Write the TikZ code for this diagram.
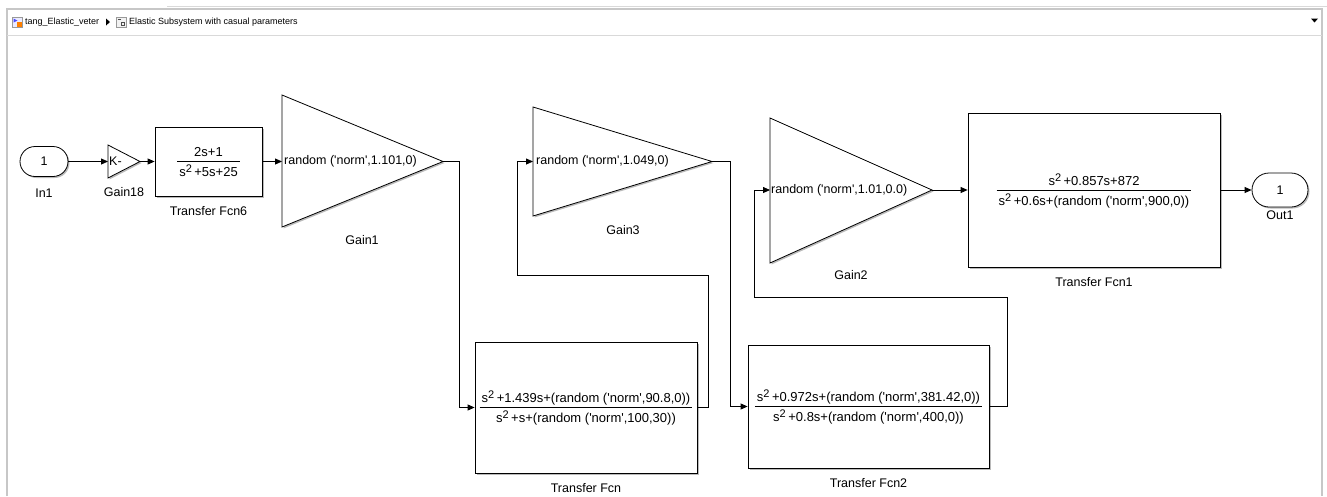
\documentclass[tikz,border=0pt]{standalone}
\usepackage{fontspec}
\setmainfont{Liberation Sans}
\usetikzlibrary{arrows.meta,positioning,shapes.misc,shadows}
\newcommand{\q}{\textquotesingle}
\newcommand{\sq}{s\raisebox{0.55ex}{\fontsize{11}{11}\selectfont 2}\hspace{2.5pt}}
\newcommand{\tfcn}[2]{\begin{tabular}{@{\hspace{2pt}}c@{\hspace{2pt}}}\rule{0pt}{15pt}#1\\ \hline\rule{0pt}{15pt}#2\end{tabular}}

\begin{document}
\begin{tikzpicture}[x=1pt,y=-1pt,>={Triangle[length=7pt,width=6pt]},
  every node/.style={font=\fontsize{12.5}{15}\selectfont},
  blk/.style={draw,line width=0.8pt,fill=white,inner sep=0pt,
    drop shadow={shadow xshift=1.5pt,shadow yshift=-1.5pt,fill=black!45,opacity=0.6}},
  tf/.style={blk,font=\fontsize{13}{15.6}\selectfont},
  port/.style={blk,rounded rectangle},
  sig/.style={->,line width=0.8pt},
  lbl/.style={inner sep=1pt},
  gaintxt/.style={anchor=west,inner sep=1pt},
  crumb/.style={anchor=west,inner sep=0pt,font=\fontsize{9}{11}\selectfont},
  frm/.style={draw=black!22,line width=1.5pt}]
\useasboundingbox (0,0) rectangle (1327,496);

% window and breadcrumb bar
\draw[frm] (7,496) -- (7,9) -- (1322,9) -- (1322,496);
\draw[black!15,line width=1pt] (167,6) -- (1327,6);
\draw[black!15,line width=1pt] (7,35) -- (1322,35);
\draw[black!40,fill=blue!8] (12,17) rectangle (22,27);
\fill[blue!70] (13.5,18.5) -- (17.5,20.5) -- (13.5,22.5) -- cycle;
\fill[orange] (17,22) rectangle (21.5,26.5);
\node[crumb] (bc1) at (25,22) {tang\_Elastic\_veter};
\fill (106,18.5) -- (110,22) -- (106,25.5) -- cycle;
\draw[black!40,fill=black!5] (116,17) rectangle (126,27);
\draw[black!70,line width=0.5pt] (117.5,19.5) -- (120.5,19.5) (121,22.5) rectangle (124.5,25.5);
\node[crumb] (bc2) at (129,22) {Elastic Subsystem with casual parameters};
\fill (1311,18.5) -- (1318,18.5) -- (1314.5,22.5) -- cycle;

% blocks
\node[port,minimum width=48pt,minimum height=30pt] (in1) at (44,161.5) {1};
\node[lbl,below=10.5pt of in1] (in1lbl) {In1};

\draw[blk] (108,145) -- (140,161.5) -- (108,178) -- cycle;
\coordinate (g18in) at (108,161.5);
\coordinate (g18out) at (140,161.5);
\node[gaintxt] (g18txt) at (108,161.5) {K-};
\node[lbl] (g18lbl) at (124,192) {Gain18};

\node[tf,minimum width=107pt,minimum height=69pt] (tf6) at (208.5,161.5) {\tfcn{2s+1}{\sq+5s+25}};
\node[lbl,below=8.5pt of tf6] (tf6lbl) {Transfer Fcn6};

\draw[blk] (282,95) -- (443,161.5) -- (282,227) -- cycle;
\coordinate (g1in) at (282,161.5);
\coordinate (g1out) at (443,161.5);
\node[gaintxt] (g1txt) at (283,161.5) {random (\q norm\q,1.101,0)};
\node[lbl] (g1lbl) at (362,240) {Gain1};

\draw[blk] (533,107) -- (712,161.5) -- (533,216) -- cycle;
\coordinate (g3in) at (533,161.5);
\coordinate (g3out) at (712,161.5);
\node[gaintxt] (g3txt) at (535,161.5) {random (\q norm\q,1.049,0)};
\node[lbl] (g3lbl) at (623,230) {Gain3};

\draw[blk] (770,118) -- (932,190) -- (770,263) -- cycle;
\coordinate (g2in) at (770,190);
\coordinate (g2out) at (932,190);
\node[gaintxt] (g2txt) at (770,190) {random (\q norm\q,1.01,0.0)};
\node[lbl] (g2lbl) at (851,275) {Gain2};

\node[tf,minimum width=222pt,minimum height=131pt] (tf) at (586,407.5)
  {\tfcn{\sq+1.439s+(random (\q norm\q,90.8,0))}{\sq+s+(random (\q norm\q,100,30))}};
\node[lbl,below=8.5pt of tf] (tflbl) {Transfer Fcn};

\node[tf,minimum width=241pt,minimum height=123pt] (tf2) at (868.5,406.5)
  {\tfcn{\sq+0.972s+(random (\q norm\q,381.42,0))}{\sq+0.8s+(random (\q norm\q,400,0))}};
\node[lbl,below=8.5pt of tf2] (tf2lbl) {Transfer Fcn2};

\node[tf,minimum width=252pt,minimum height=154pt] (tf1) at (1094,190)
  {\tfcn{\sq+0.857s+872}{\sq+0.6s+(random (\q norm\q,900,0))}};
\node[lbl,below=8.5pt of tf1] (tf1lbl) {Transfer Fcn1};

\node[port,minimum width=56pt,minimum height=34pt] (out1) at (1280,190) {1};
\node[lbl,below=2.5pt of out1] (out1lbl) {Out1};

% signals
\coordinate (c1) at (459,161.5);
\coordinate (c2) at (708,275);
\coordinate (c3) at (517,275);
\coordinate (c4) at (730,161.5);
\coordinate (c5) at (1007,297);
\coordinate (c6) at (754,297);
\draw[sig] (in1.east) -- (g18in);
\draw[sig] (g18out) -- (tf6.west);
\draw[sig] (tf6.east) -- (g1in);
\draw[sig] (g1out) -- (c1) |- (tf.west);
\draw[sig] (tf.east) -| (c2) -- (c3) |- (g3in);
\draw[sig] (g3out) -- (c4) |- (tf2.west);
\draw[sig] (tf2.east) -| (c5) -- (c6) |- (g2in);
\draw[sig] (g2out) -- (tf1.west);
\draw[sig] (tf1.east) -- (out1.west);
\end{tikzpicture}
\end{document}
